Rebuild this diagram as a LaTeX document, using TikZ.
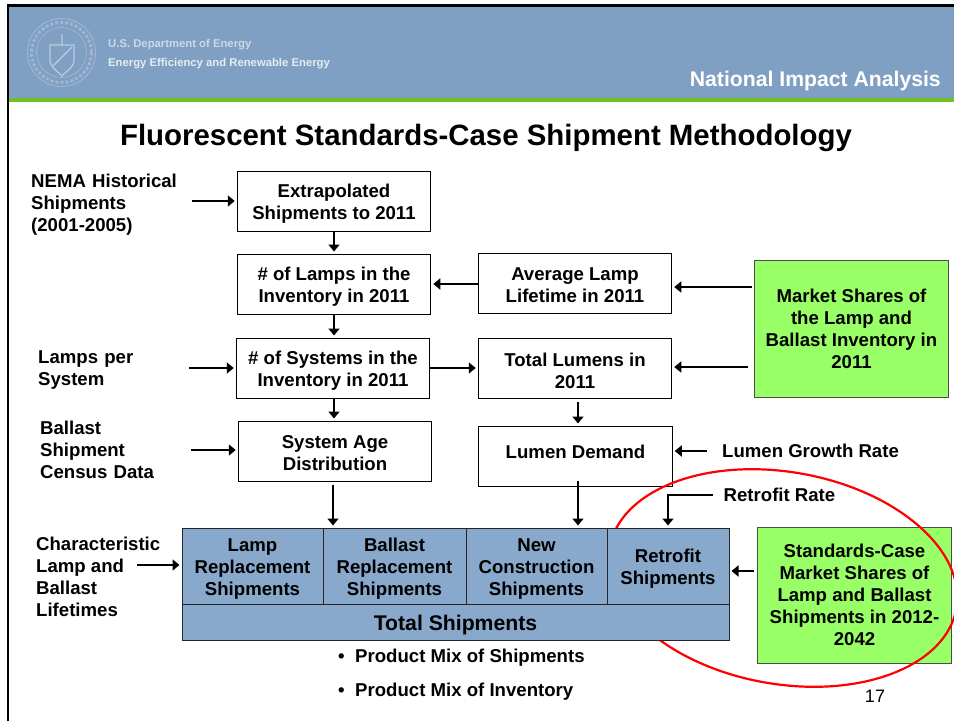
\documentclass[tikz,border=0pt]{standalone}
\usepackage{fontspec}
\setmainfont{Liberation Sans}
\usepackage{tikz}
\usetikzlibrary{arrows.meta,calc}
\definecolor{headblue}{RGB}{127,159,195}
\definecolor{boxblue}{RGB}{136,168,204}
\definecolor{boxgreen}{RGB}{153,255,102}
\definecolor{stripgreen}{RGB}{112,190,40}
\definecolor{sealgrey}{RGB}{160,182,208}
\newcommand{\dropline}{\rule{0pt}{19.5pt}}
\tikzset{
         body/.style={font=\fontsize{18.6}{22}\selectfont\bfseries,inner sep=0pt,align=center},
         sidelabel/.style={body,align=left,anchor=west},
         whitebox/.style={body,draw=black,line width=1pt,fill=white,minimum width=193.5pt,minimum height=60pt},
         greenbox/.style={body,draw=black!70,line width=1pt,fill=boxgreen,minimum width=194pt},
         bluebox/.style={body,draw=black!85,line width=1pt,fill=boxblue,minimum height=76pt},
         flow/.style={line width=1.7pt,-{Triangle[length=7pt,width=11pt]},shorten >=2pt}
        }
\begin{document}
\begin{tikzpicture}[x=1pt,y=-1pt]
    \useasboundingbox (0,0) rectangle (954,721);
    \fill[headblue] (8,6) rectangle (954,98); % header
    \fill[stripgreen] (8,98) rectangle (954,102); % green strip
    \draw[line width=2.2pt] (8,721) -- (8,5.5) -- (954,5.5); % frame
    \draw[sealgrey,line width=1pt] (61.5,52.5) circle (34); % seal
    \draw[sealgrey,line width=3pt,dotted] (61.5,52.5) circle (30); % seal lettering
    \draw[sealgrey,line width=0.8pt] (61.5,52.5) circle (25);
    \draw[sealgrey!70!white,line width=1.2pt] (50,45) -- (74,45) -- (74,60) .. controls (74,68) and (66,71) .. (62,76) .. controls (58,71) and (50,68) .. (50,60) -- cycle; % shield
    \draw[sealgrey!70!white,line width=1.2pt] (53,66) -- (72,47)(62,45) -- (62,34);
    \node[anchor=west,inner sep=0pt,text=white!60!headblue,font=\fontsize{11.3}{14}\selectfont\bfseries] (dept) at (108,45) {U.S. Department of Energy}; % agency
    \node[anchor=west,inner sep=0pt,text=white!80!headblue,font=\fontsize{11.3}{14}\selectfont\bfseries] (office) at (108,64) {Energy Efficiency and Renewable Energy}; % office
    \node[anchor=east,inner sep=0pt,text=white,font=\fontsize{21.2}{24}\selectfont\bfseries] (section) at (941,81) {National Impact Analysis}; % section
    \node[inner sep=0pt,font=\fontsize{29.4}{34}\selectfont\bfseries] (title) at (486,138) {Fluorescent Standards-Case Shipment Methodology}; % title
    \node[whitebox] (extrap) at (334,201) {\dropline Extrapolated\\Shipments to 2011}; % top box
    \node[whitebox] (lamps) at (334,284) {\rule{0pt}{18pt}\# of Lamps in the\\Inventory in 2011};
    \node[whitebox] (avg) at (575,283) {\rule{0pt}{18pt}Average Lamp\\Lifetime in 2011};
    \node[whitebox] (systems) at (333,368) {\dropline\# of Systems in the\\Inventory in 2011};
    \node[whitebox] (lumens) at (575,368) {\dropline Total Lumens in\\2011};
    \node[whitebox] (age) at (335,451) {\rule{0pt}{18pt}System Age\\Distribution};
    \node[whitebox] (demand) at (575.5,456) {Lumen Demand\rule[-8.6pt]{0pt}{8.6pt}};
    \node[greenbox,minimum height=137pt] (market) at (851.5,328.5) {Market Shares of\\the Lamp and\\Ballast Inventory in\\2011}; % upper green box
    \node[greenbox,minimum height=136pt] (standards) at (854.5,595) {Standards-Case\\Market Shares of\\Lamp and Ballast\\Shipments in 2012-\\2042}; % lower green box
    \draw[red,line width=2.2pt] (783,578) ellipse [x radius=176,y radius=106,rotate=-10]; % red ring
    \node[bluebox,minimum width=141pt] (lamprep) at (252.5,566) {\dropline Lamp\\Replacement\\Shipments};
    \node[bluebox,minimum width=143pt] (balrep) at (394.5,566) {\dropline Ballast\\Replacement\\Shipments};
    \node[bluebox,minimum width=141pt] (newcon) at (536.5,566) {\dropline New\\Construction\\Shipments};
    \node[bluebox,minimum width=122pt] (retro) at (668,566) {\dropline Retrofit\\Shipments};
    \node[body,draw=black!85,line width=1pt,fill=boxblue,minimum width=547pt,minimum height=36pt,font=\fontsize{21.2}{24}\selectfont\bfseries] (total) at (455.5,622) {\rule{0pt}{21pt}Total Shipments}; % total bar
    \node[sidelabel,text width=161pt] (nema) at (31,205) {NEMA Historical\\Shipments\\(2001-2005)};
    \node[sidelabel,text width=151pt] (perlamp) at (38,370) {Lamps per\\System};
    \node[sidelabel,text width=151pt] (census) at (40,450) {Ballast\\Shipment\\Census Data};
    \node[sidelabel] (life) at (36,577) {Characteristic\\Lamp and\\Ballast\\Lifetimes};
    \node[body] (growth) at (810.5,451) {Lumen Growth Rate};
    \node[body] (rate) at (779.5,495) {Retrofit Rate};
    \node[sidelabel] (mixship) at (338,658) {\makebox[17pt][l]{•}Product Mix of Shipments};
    \node[sidelabel] (mixinv) at (338,692) {\makebox[17pt][l]{•}Product Mix of Inventory};
    \node[inner sep=0pt,font=\fontsize{18}{22}\selectfont] (page) at (875,696) {17}; % page number
    \coordinate (lifeend) at (137,565); % arrow start beside the lifetimes label
    \coordinate (markettop) at (752,287); % upper arrow start
    \coordinate (marketlow) at (748,367); % lower arrow start
    \coordinate (standend) at (754,571); % arrow start beside the lower green box
    \draw[flow] (nema.east |- extrap.west) -- (extrap.west);
    \draw[flow] (perlamp.east |- systems.west) -- (systems.west);
    \draw[flow] (census.east) -- (age.west |- census.east);
    \draw[flow] (lifeend) -- (lamprep.west |- lifeend);
    \draw[flow] (extrap.south) -- (lamps.north);
    \draw[flow] (lamps.south) -- (lamps.south |- systems.north);
    \draw[flow] (avg.west |- lamps.east) -- (lamps.east);
    \draw[flow] (markettop) -- (avg.east |- markettop);
    \draw[flow] (marketlow) -- (lumens.east |- marketlow);
    \draw[flow] (systems.east) -- (lumens.west);
    \draw[flow] ($(systems.south)+(1,0)$) -- ($(systems.south |- age.north)+(1,0)$);
    \draw[flow,shorten <=3pt] ($(lumens.south)+(3,0)$) -- ($(lumens.south |- demand.north)+(3,0)$);
    \draw[flow,shorten <=15pt] (growth.west) -- (demand.east |- growth.west);
    \draw[flow,shorten <=3pt] ($(age.south)+(-2,0)$) -- ($(age.south |- balrep.north)+(-2,0)$);
    \draw[flow,shorten <=-3pt] ($(demand.south)+(2.5,-3)$) -- ($(demand.south |- newcon.north)+(2.5,0)$);
    \draw[flow,shorten <=11pt] (rate.west) -| (retro.north);
    \draw[flow] (standend) -- (retro.east |- standend);
\end{tikzpicture}
\end{document}
